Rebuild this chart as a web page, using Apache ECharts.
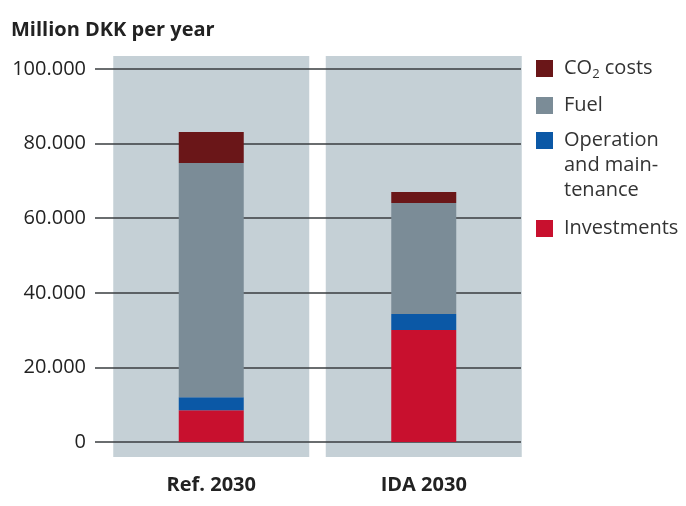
<!DOCTYPE html>
<html><head><meta charset="utf-8">
<script src="https://cdn.jsdelivr.net/npm/echarts@6/dist/echarts.min.js"></script>
<style>html,body{margin:0;padding:0;background:#fff}#c{width:686px;height:506px}</style>
</head><body><div id="c"></div>
<script>
var categories = ['Ref. 2030', 'IDA 2030'];
var investments = [8500, 30000];
var operation = [3500, 4300];
var fuel = [62800, 29800];
var co2 = [8300, 2900];

var FONT = '"Open Sans", sans-serif';
var FS = 20;
var colors = {
  'CO2 costs': '#6a1618',
  'Fuel': '#7b8c97',
  'Operation and maintenance': '#0b58a6',
  'Investments': '#c8102e'
};
function fmtNum(v) {
  return v === 0 ? '0' : String(v).replace(/(\d)(?=(\d{3})+$)/g, '$1.');
}
var richBase = {
  a: { fontFamily: FONT, fontSize: FS, color: '#333', lineHeight: 25, padding: [0, 0, 0, 6] },
  b: { fontFamily: FONT, fontSize: FS, color: '#333', lineHeight: 25 },
  s: { fontFamily: FONT, fontSize: 13, color: '#333', lineHeight: 10, verticalAlign: 'bottom' },
  e: { fontFamily: FONT, fontSize: FS, color: '#333', lineHeight: 25 }
};
function leg(name, top, fmt) {
  return {
    data: [name], left: 536, top: top, orient: 'vertical', padding: 0,
    itemWidth: 17, itemHeight: 17, itemGap: 0, icon: 'rect', selectedMode: false,
    formatter: function () { return fmt; },
    textStyle: { fontFamily: FONT, fontSize: FS, color: '#333', lineHeight: 25, rich: richBase }
  };
}
var chart = echarts.init(document.getElementById('c'));
var option = {
  animation: false,
  title: { text: 'Million DKK per year', left: 6, top: 15,
    textStyle: { fontFamily: FONT, fontSize: 20, fontWeight: 'bold', color: '#222' } },
  legend: [
    leg('CO2 costs', 56, '{a|CO}{s|2}{b| costs}'),
    leg('Fuel', 93, '{a|Fuel}'),
    leg('Operation and maintenance', 78, '{e| }\n{e| }\n{a|Operation}\n{a|and main-}\n{a|tenance}'),
    leg('Investments', 216, '{a|Investments}')
  ],
  grid: [
    { left: 105, width: 425, top: 56, height: 401 },
    { left: 95, width: 426, top: 69, height: 373 },
    { left: 105, width: 425, top: 69, height: 373 }
  ],
  xAxis: [
    { gridIndex: 0, type: 'category', data: categories, show: false },
    { gridIndex: 1, type: 'category', data: categories, show: false },
    { gridIndex: 2, type: 'category', data: categories,
      axisLine: { show: false }, axisTick: { show: false },
      axisLabel: { margin: 33, fontFamily: FONT, fontSize: 20, fontWeight: 'bold', color: '#222' } }
  ],
  yAxis: [
    { gridIndex: 0, type: 'value', min: 0, max: 1, show: false },
    { gridIndex: 1, type: 'value', min: 0, max: 100000, interval: 20000, z: 1,
      axisLine: { show: false }, axisTick: { show: false },
      splitLine: { show: true, lineStyle: { color: '#383c3f', width: 1.5 } },
      axisLabel: { margin: 9, fontFamily: FONT, fontSize: FS, color: '#222',
        formatter: function (v) { return fmtNum(v); } } },
    { gridIndex: 2, type: 'value', min: 0, max: 100000, show: false, splitLine: { show: false } }
  ],
  series: [
    { type: 'bar', xAxisIndex: 0, yAxisIndex: 0, data: categories.map(function () { return 1; }),
      barWidth: 196, z: 0, silent: true, itemStyle: { color: '#c5d0d6' } },
    { name: 'Investments', type: 'bar', stack: 't', xAxisIndex: 2, yAxisIndex: 2, data: investments,
      barWidth: 65, z: 2, itemStyle: { color: colors['Investments'] } },
    { name: 'Operation and maintenance', type: 'bar', stack: 't', xAxisIndex: 2, yAxisIndex: 2, data: operation,
      barWidth: 65, z: 2, itemStyle: { color: colors['Operation and maintenance'] } },
    { name: 'Fuel', type: 'bar', stack: 't', xAxisIndex: 2, yAxisIndex: 2, data: fuel,
      barWidth: 65, z: 2, itemStyle: { color: colors['Fuel'] } },
    { name: 'CO2 costs', type: 'bar', stack: 't', xAxisIndex: 2, yAxisIndex: 2, data: co2,
      barWidth: 65, z: 2, itemStyle: { color: colors['CO2 costs'] } }
  ]
};
chart.setOption(option);
</script></body></html>
